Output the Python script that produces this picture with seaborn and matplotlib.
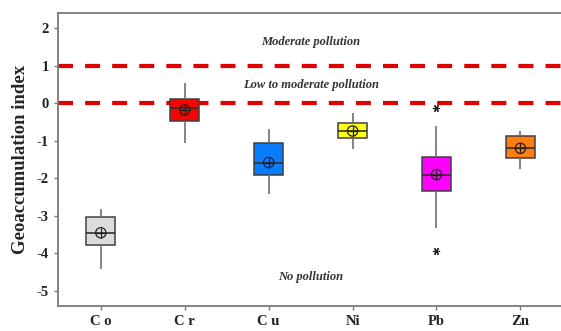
import matplotlib.pyplot as plt
import seaborn as sns
import pandas as pd

# five-number summaries (whisker low, Q1, median, Q3, whisker high)
elements = ['Co', 'Cr', 'Cu', 'Ni', 'Pb', 'Zn']
whisker_low = [-4.42, -1.07, -2.43, -1.23, -3.33, -1.74]
q1 = [-3.78, -0.48, -1.90, -0.92, -2.34, -1.45]
median = [-3.45, -0.12, -1.58, -0.75, -1.90, -1.18]
q3 = [-3.03, 0.10, -1.07, -0.52, -1.43, -0.88]
whisker_high = [-2.82, 0.53, -0.70, -0.26, -0.60, -0.74]
means = [-3.45, -0.18, -1.58, -0.74, -1.90, -1.20]
outlier_elem = ['Pb', 'Pb']
outlier_val = [-0.12, -3.93]
colors = ['#dcdcdc', '#ff0000', '#0a7dff', '#ffff1a', '#ff00ff', '#ff7f0e']

rows = []
for i, el in enumerate(elements):
    for v in (whisker_low[i], q1[i], median[i], q3[i], whisker_high[i]):
        rows.append({'Element': el, 'Igeo': v})
df = pd.DataFrame(rows)
df_mean = pd.DataFrame({'Element': elements, 'Igeo': means})
df_out = pd.DataFrame({'Element': outlier_elem, 'Igeo': outlier_val})

sns.set_style('ticks')
plt.rcParams['font.family'] = ['Liberation Serif', 'DejaVu Serif']
plt.rcParams['axes.unicode_minus'] = False

fig = plt.figure(figsize=(5.61, 3.31), dpi=100)
ax = fig.add_axes([0.1034, 0.0755, 0.896, 0.885])

# guide lines for the pollution classes
for yv in (0, 1):
    ax.axhline(yv, color='#e00000', lw=3, dashes=(3.6, 2.9), zorder=1)

sns.boxplot(data=df, x='Element', y='Igeo', hue='Element', palette=colors,
            order=elements, width=0.35, whis=(0, 100), showcaps=False,
            saturation=1, legend=False, ax=ax, linewidth=1.1,
            linecolor='#404040',
            whiskerprops={'color': '#707070', 'lw': 1.2},
            medianprops={'color': '#303030', 'lw': 1.2})

sns.scatterplot(data=df_mean, x='Element', y='Igeo', marker='o', s=55,
                facecolor='none', edgecolor='#202020', linewidth=0.9,
                zorder=5, ax=ax)
sns.scatterplot(data=df_mean, x='Element', y='Igeo', marker='+', s=55,
                color='#202020', linewidth=0.9, zorder=5, ax=ax)
sns.scatterplot(data=df_out, x='Element', y='Igeo', marker=(6, 2, 30), s=20,
                color='#202020', linewidth=0.9, zorder=5, ax=ax)

txt = dict(ha='center', va='center', fontsize=9, fontweight='bold',
           style='italic', color='#333333')
ax.text(2.5, 1.62, 'Moderate pollution', **txt)
ax.text(2.5, 0.48, 'Low to moderate pollution', **txt)
ax.text(2.5, -4.63, 'No pollution', **txt)

ax.set_xlim(-0.51, 5.48)
ax.set_ylim(-5.4, 2.4)
ax.set_yticks(range(-5, 3))
ax.set_xticks(range(len(elements)))
ax.set_xticklabels([' '.join(e) if e in ('Co', 'Cr', 'Cu') else e for e in elements])
ax.set_xlabel('')
ax.set_ylabel('Geoaccumulation index', fontsize=13.5, fontweight='bold',
              labelpad=6)

for s in ax.spines.values():
    s.set_color('#7a7a7a')
    s.set_linewidth(1.3)
ax.spines['right'].set_visible(False)
ax.tick_params(colors='#7a7a7a', labelcolor='#222222', length=3, width=1,
               labelsize=10.5)
for lab in ax.get_xticklabels() + ax.get_yticklabels():
    lab.set_fontweight('bold')

fig.savefig('out.png', dpi=100)
